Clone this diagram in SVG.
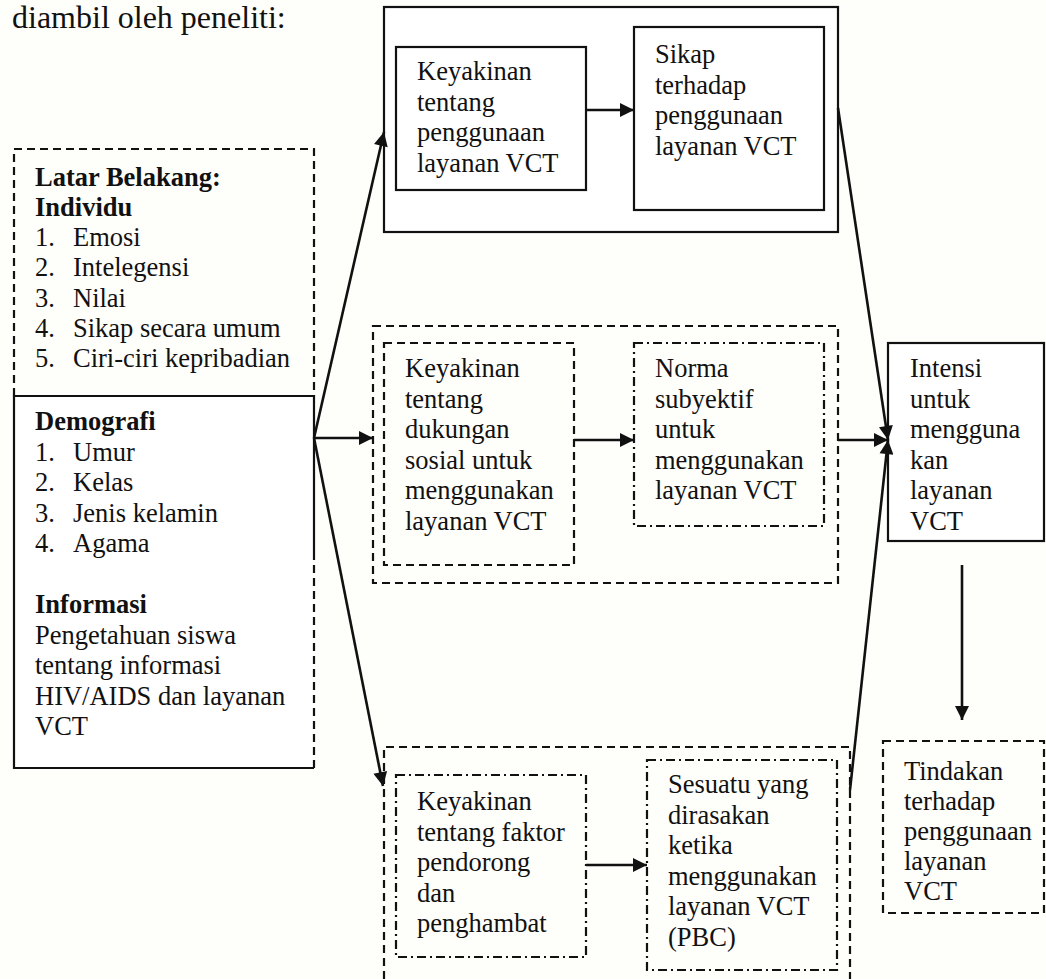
<svg xmlns="http://www.w3.org/2000/svg" width="1046" height="979" viewBox="0 0 1046 979">
  <style>
    text { font-family: "Liberation Serif", "Times New Roman", serif; font-size: 26.5px; fill: #111; }
    .title { font-size: 32px; }
    .b { font-weight: bold; }
    .solid { fill: #fff; stroke: #111; stroke-width: 2.2; }
    .dash { fill: none; stroke: #111; stroke-width: 2.2; stroke-dasharray: 8 5; }
    .dashdot { fill: none; stroke: #111; stroke-width: 2.2; stroke-dasharray: 9 4 2 4; }
    .edge { fill: none; stroke: #111; stroke-width: 2.6; }
  </style>
  <defs>
    <marker id="arrow" viewBox="0 0 10 10" refX="10" refY="5" markerUnits="userSpaceOnUse" markerWidth="17" markerHeight="14" orient="auto">
      <path d="M0,0 L10,5 L0,10 z" fill="#111"/>
    </marker>
  </defs>

  <rect width="1046" height="979" fill="#fefefb"/>

  <text class="title" x="12" y="28">diambil oleh peneliti:</text>

  <!-- Left panel: background factors -->
  <g id="latar-belakang">
    <path class="dash" d="M14,396 V149 H314 V396"/>
    <path class="solid" d="M314,552 V396 H14 V768 H314" fill="none"/>
    <path class="dash" d="M314,552 V768"/>
    <text class="b" x="35" y="185.5">Latar Belakang:</text>
    <text class="b" x="35" y="215.8">Individu</text>
    <text x="35" y="246">1.</text><text x="73" y="246">Emosi</text>
    <text x="35" y="276.4">2.</text><text x="73" y="276.4">Intelegensi</text>
    <text x="35" y="306.7">3.</text><text x="73" y="306.7">Nilai</text>
    <text x="35" y="337">4.</text><text x="73" y="337">Sikap secara umum</text>
    <text x="35" y="367.3">5.</text><text x="73" y="367.3">Ciri-ciri kepribadian</text>
    <text class="b" x="35" y="430">Demografi</text>
    <text x="35" y="460.5">1.</text><text x="73" y="460.5">Umur</text>
    <text x="35" y="491">2.</text><text x="73" y="491">Kelas</text>
    <text x="35" y="521.5">3.</text><text x="73" y="521.5">Jenis kelamin</text>
    <text x="35" y="552">4.</text><text x="73" y="552">Agama</text>
    <text class="b" x="35" y="613">Informasi</text>
    <text x="35" y="643.5">Pengetahuan siswa</text>
    <text x="35" y="674">tentang informasi</text>
    <text x="35" y="704.5">HIV/AIDS dan layanan</text>
    <text x="35" y="735">VCT</text>
  </g>

  <!-- Attitude group -->
  <g id="sikap-group">
    <rect class="solid" x="384" y="7" width="454" height="225"/>
  </g>
  <g id="keyakinan-penggunaan">
    <rect class="solid" x="396" y="47" width="190" height="143"/>
    <text x="417" y="80">Keyakinan</text>
    <text x="417" y="110.5">tentang</text>
    <text x="417" y="141">penggunaan</text>
    <text x="417" y="171.5">layanan VCT</text>
  </g>
  <g id="sikap">
    <rect class="solid" x="634" y="27" width="190" height="183"/>
    <text x="655" y="63">Sikap</text>
    <text x="655" y="93.5">terhadap</text>
    <text x="655" y="124">penggunaan</text>
    <text x="655" y="154.5">layanan VCT</text>
  </g>

  <!-- Subjective norm group -->
  <g id="norma-group">
    <rect class="dash" x="373" y="326" width="465" height="257"/>
  </g>
  <g id="keyakinan-dukungan">
    <rect class="dash" x="384" y="343" width="190" height="222"/>
    <text x="405" y="377">Keyakinan</text>
    <text x="405" y="407.5">tentang</text>
    <text x="405" y="438">dukungan</text>
    <text x="405" y="468.5">sosial untuk</text>
    <text x="405" y="499">menggunakan</text>
    <text x="405" y="529.5">layanan VCT</text>
  </g>
  <g id="norma-subyektif">
    <rect class="dashdot" x="634" y="343" width="190" height="183"/>
    <text x="655" y="377">Norma</text>
    <text x="655" y="407.5">subyektif</text>
    <text x="655" y="438">untuk</text>
    <text x="655" y="468.5">menggunakan</text>
    <text x="655" y="499">layanan VCT</text>
  </g>

  <!-- Perceived behavioural control group -->
  <g id="pbc-group">
    <path class="dash" d="M384,979 V747 H850 V979"/>
  </g>
  <g id="keyakinan-faktor">
    <rect class="dashdot" x="396" y="775" width="190" height="182"/>
    <text x="417" y="810">Keyakinan</text>
    <text x="417" y="840.5">tentang faktor</text>
    <text x="417" y="871">pendorong</text>
    <text x="417" y="901.5">dan</text>
    <text x="417" y="932">penghambat</text>
  </g>
  <g id="pbc">
    <rect class="dashdot" x="647" y="760" width="190" height="210"/>
    <text x="668" y="793">Sesuatu yang</text>
    <text x="668" y="823.5">dirasakan</text>
    <text x="668" y="854">ketika</text>
    <text x="668" y="884.5">menggunakan</text>
    <text x="668" y="915">layanan VCT</text>
    <text x="668" y="945.5">(PBC)</text>
  </g>

  <!-- Intention and action -->
  <g id="intensi">
    <rect class="solid" x="888" y="343" width="156" height="198"/>
    <text x="910" y="377">Intensi</text>
    <text x="910" y="407.5">untuk</text>
    <text x="910" y="438">mengguna</text>
    <text x="910" y="468.5">kan</text>
    <text x="910" y="499">layanan</text>
    <text x="910" y="529.5">VCT</text>
  </g>
  <g id="tindakan">
    <rect class="dash" x="883" y="741" width="161" height="172"/>
    <text x="904" y="780">Tindakan</text>
    <text x="904" y="810">terhadap</text>
    <text x="904" y="840">penggunaan</text>
    <text x="904" y="870">layanan</text>
    <text x="904" y="900">VCT</text>
  </g>

  <!-- Connectors -->
  <g id="connectors">
    <line class="edge" x1="314" y1="438" x2="384" y2="132" marker-end="url(#arrow)"/>
    <line class="edge" x1="314" y1="438" x2="373" y2="438" marker-end="url(#arrow)"/>
    <line class="edge" x1="314" y1="438" x2="383" y2="786" marker-end="url(#arrow)"/>
    <line class="edge" x1="586" y1="110" x2="634" y2="110" marker-end="url(#arrow)"/>
    <line class="edge" x1="574" y1="440" x2="634" y2="440" marker-end="url(#arrow)"/>
    <line class="edge" x1="586" y1="865" x2="647" y2="865" marker-end="url(#arrow)"/>
    <line class="edge" x1="838" y1="108" x2="888" y2="440" marker-end="url(#arrow)"/>
    <line class="edge" x1="838" y1="440" x2="888" y2="440" marker-end="url(#arrow)"/>
    <line class="edge" x1="850" y1="790" x2="888" y2="440" marker-end="url(#arrow)"/>
    <line class="edge" x1="962" y1="565" x2="962" y2="720" marker-end="url(#arrow)"/>
  </g>
</svg>
